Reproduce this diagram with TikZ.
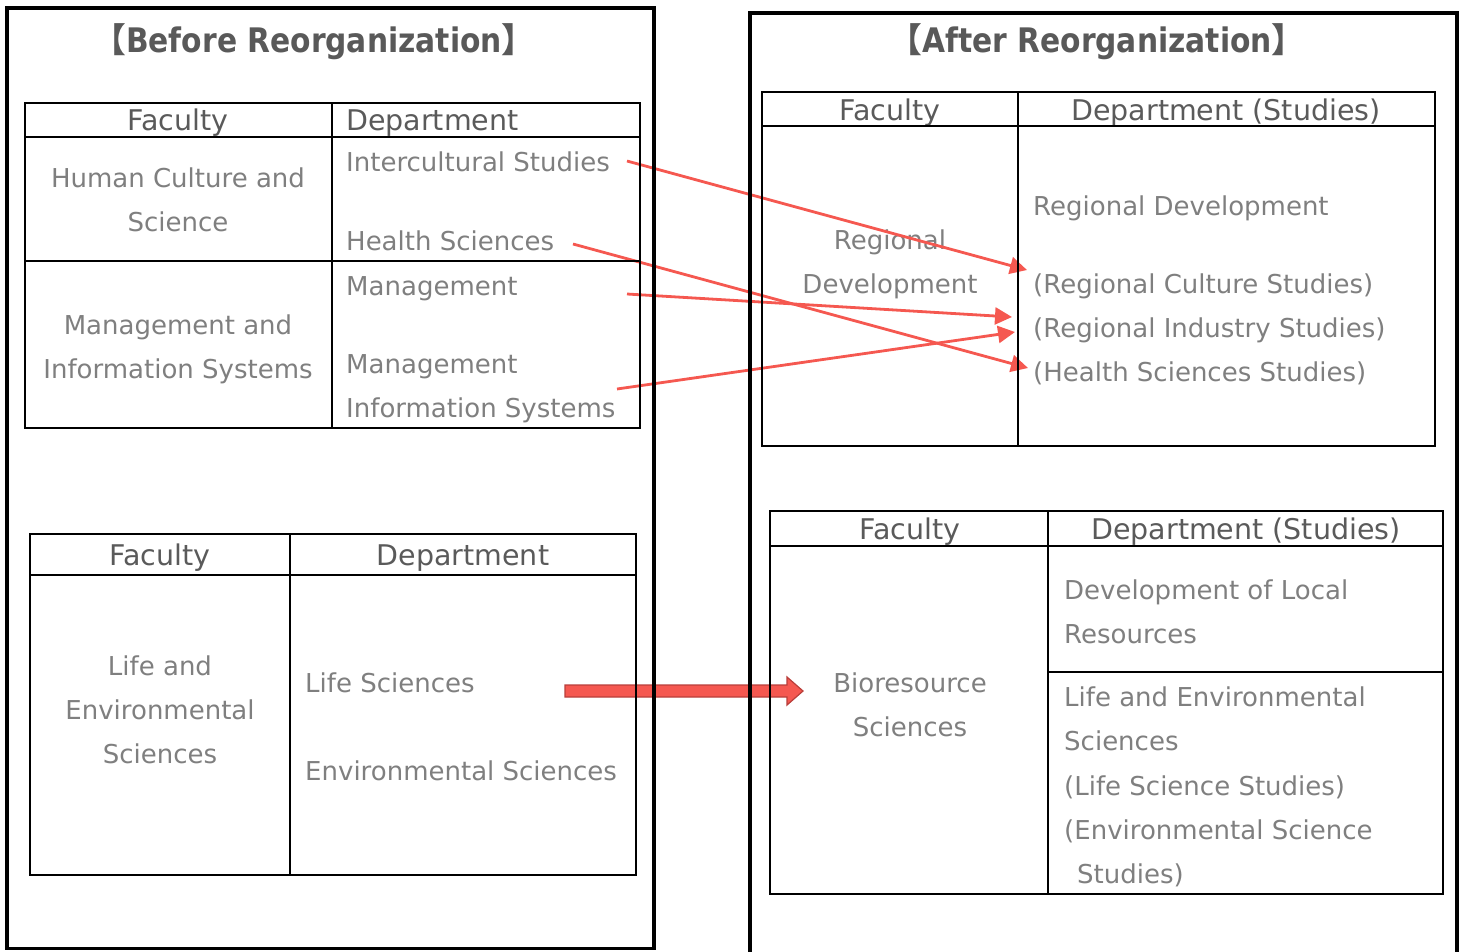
\documentclass[tikz,border=0pt]{standalone}
\usepackage{fontspec}
\setmainfont{DejaVu Sans}
\newfontfamily\cjkfont{Noto Sans CJK JP}
\newfontfamily\titlefont{DejaVu Sans Bold}[FakeStretch=0.88]
\usetikzlibrary{arrows.meta}
\definecolor{ttlgray}{HTML}{595959}
\definecolor{hdrgray}{HTML}{5A5A5A}
\definecolor{txtgray}{HTML}{7F7F7F}
\definecolor{arrowred}{RGB}{245,88,80}
\definecolor{arrowdark}{RGB}{185,62,58}
\begin{document}
\begin{tikzpicture}[x=1pt,y=-1pt,
  outerbox/.style={draw=black,line width=3.2pt},
  grid/.style={draw=black,line width=2.6pt},
  hdr/.style={font=\fontsize{28.5}{32}\selectfont, text=hdrgray, inner sep=0pt, text height=21pt, text depth=0pt},
  txt/.style={font=\fontsize{26}{30}\selectfont, text=txtgray, inner sep=0pt, text height=19pt, text depth=0pt},
  ttl/.style={font=\titlefont\fontsize{33.8}{36}\selectfont, text=ttlgray, inner sep=0pt},
  redarrow/.style={draw=arrowred, line width=2.8pt, -{Triangle[length=17pt,width=17pt]}},
  bigarrow/.style={fill=arrowred, draw=arrowdark, line width=1.2pt}
]
\useasboundingbox (0,0) rectangle (1463,951);

% big block arrow (behind lines)
\draw[bigarrow] (565,685) -- (787,685) -- (787,677) -- (803,691) -- (787,705) -- (787,697) -- (565,697) -- cycle;

% titles
\node[ttl] (tbefore) at (314,42) {{\cjkfont\bfseries 【}Before Reorganization{\cjkfont\bfseries 】}};
\node[ttl] (tafter) at (1097,42) {{\cjkfont\bfseries 【}After Reorganization{\cjkfont\bfseries 】}};

% table 1 texts
\node[hdr] (f1) at (178,120) {Faculty};
\node[hdr, anchor=west] (d1) at (346,120) {Department};
\node[txt] (hc1) at (178,178) {Human Culture and};
\node[txt] (hc2) at (178,222) {Science};
\node[txt, anchor=west] (ic) at (346,162) {Intercultural Studies};
\node[txt, anchor=west] (hs) at (346,241) {Health Sciences};
\node[txt, anchor=west] (mg) at (346,286) {Management};
\node[txt, anchor=west] (mis1) at (346,364) {Management};
\node[txt, anchor=west] (mis2) at (346,408) {Information Systems};
\node[txt] (mi1) at (178,325) {Management and};
\node[txt] (mi2) at (178,369) {Information Systems};

% table 2 texts
\node[hdr] (f2) at (160,555) {Faculty};
\node[hdr] (d2) at (463,555) {Department};
\node[txt] (le1) at (160,666) {Life and};
\node[txt] (le2) at (160,710) {Environmental};
\node[txt] (le3) at (160,754) {Sciences};
\node[txt, anchor=west] (ls) at (305,683) {Life Sciences};
\node[txt, anchor=west] (es) at (305,771) {Environmental Sciences};

% table 3 texts
\node[hdr] (f3) at (890,110) {Faculty};
\node[hdr] (d3) at (1226,110) {Department (Studies)};
\node[txt] (rd1) at (890,240) {Regional};
\node[txt] (rd2) at (890,284) {Development};
\node[txt, anchor=west] (rdv) at (1033,206) {Regional Development};
\node[txt, anchor=west] (rcs) at (1033,284) {(Regional Culture Studies)};
\node[txt, anchor=west] (ris) at (1033,328) {(Regional Industry Studies)};
\node[txt, anchor=west] (hss) at (1033,372) {(Health Sciences Studies)};

% table 4 texts
\node[hdr] (f4) at (910,529) {Faculty};
\node[hdr] (d4) at (1246,529) {Department (Studies)};
\node[txt] (bs1) at (910,683) {Bioresource};
\node[txt] (bs2) at (910,727) {Sciences};
\node[txt, anchor=west] (dl1) at (1064,590) {Development of Local};
\node[txt, anchor=west] (dl2) at (1064,634) {Resources};
\node[txt, anchor=west] (lx1) at (1064,697) {Life and Environmental};
\node[txt, anchor=west] (lx2) at (1064,741) {Sciences};
\node[txt, anchor=west] (lx3) at (1064,786) {(Life Science Studies)};
\node[txt, anchor=west] (lx4) at (1064,830) {(Environmental Science};
\node[txt, anchor=west] (lx5) at (1077,874) {Studies)};

% red connectors
\coordinate (a1s) at (627,161);
\coordinate (a1e) at (1027,270);
\coordinate (a2s) at (573,244);
\coordinate (a2e) at (1028,368);
\coordinate (a3s) at (627,294);
\coordinate (a3e) at (1012,317);
\coordinate (a4s) at (617,389);
\coordinate (a4e) at (1015,332);
\draw[redarrow] (a1s) -- (a1e);
\draw[redarrow] (a2s) -- (a2e);
\draw[redarrow] (a3s) -- (a3e);
\draw[redarrow] (a4s) -- (a4e);

% table 1 lines
\draw[grid] (25,103) rectangle (640,428);
\draw[grid] (332,103) -- (332,428);
\draw[grid] (25,137) -- (640,137);
\draw[grid] (25,261) -- (640,261);
% table 2 lines
\draw[grid] (30,534) rectangle (636,875);
\draw[grid] (290,534) -- (290,875);
\draw[grid] (30,575) -- (636,575);
% table 3 lines
\draw[grid] (762,92) rectangle (1435,446);
\draw[grid] (1018,92) -- (1018,446);
\draw[grid] (762,126) -- (1435,126);
% table 4 lines
\draw[grid] (770,511) rectangle (1443,894);
\draw[grid] (1048,511) -- (1048,894);
\draw[grid] (770,546) -- (1443,546);
\draw[grid] (1048,672) -- (1443,672);

% outer boxes
\draw[outerbox] (7,8) rectangle (654,948.5);
\draw[outerbox] (750,953) -- (750,13) -- (1457,13) -- (1457,953);
\end{tikzpicture}
\end{document}
